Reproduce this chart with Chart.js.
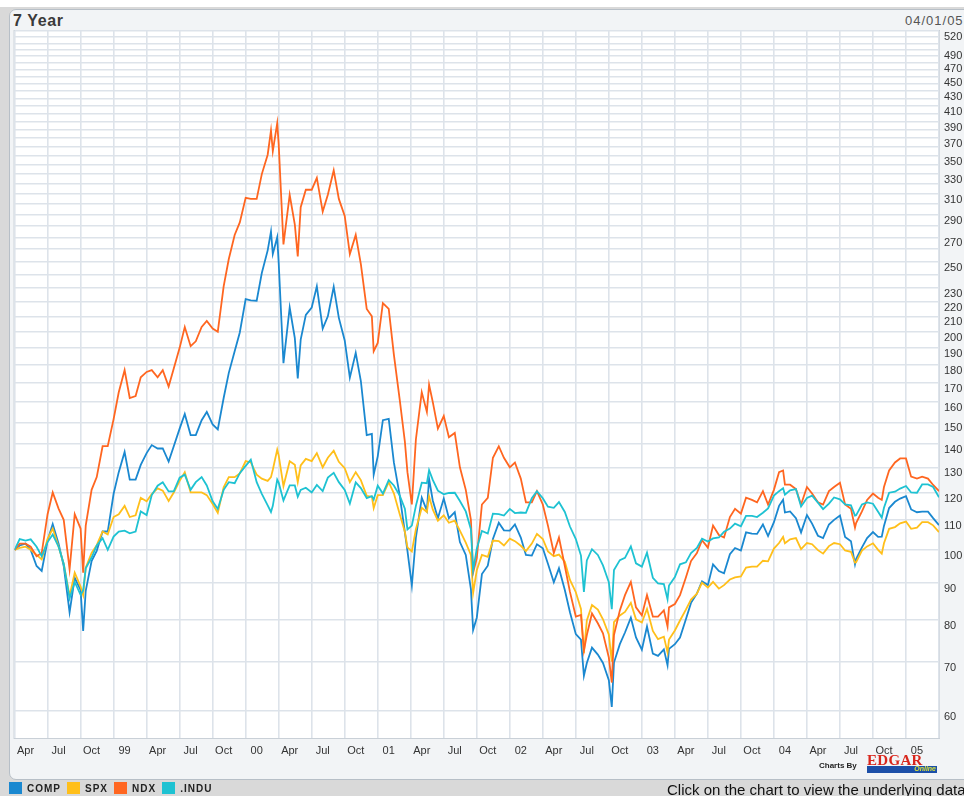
<!DOCTYPE html>
<html>
<head>
<meta charset="utf-8">
<title>7 Year</title>
<script src="https://cdn.jsdelivr.net/npm/chart.js@4.4.1/dist/chart.umd.min.js"></script>
<style>
  html, body { margin: 0; padding: 0; width: 964px; height: 796px; overflow: hidden; background: #fff; font-family: "Liberation Sans", Arial, sans-serif; }
  #frame { position: absolute; left: 0; top: 7px; width: 964px; height: 789px; background: #d9d9d9; }
  #panel { position: absolute; left: 9px; top: 9px; width: 980px; height: 771px; box-sizing: border-box; background: #f2f4f6; border: 1px solid #b7bfc7; border-radius: 7px; }
  #title { position: absolute; left: 13px; top: 12px; font-size: 16px; font-weight: bold; color: #3a3a3a; letter-spacing: 0.6px; }
  #stamp { position: absolute; left: 905px; top: 13px; font-size: 13px; color: #555; letter-spacing: 1px; white-space: nowrap; }
  #chart { position: absolute; left: 0; top: 0; z-index: 2; }
  #legend { position: absolute; left: 9px; top: 782px; font-size: 10px; font-weight: bold; color: #222; letter-spacing: 1px; white-space: nowrap; z-index: 3; }
  #legend span.box { display: inline-block; width: 13px; height: 12px; vertical-align: -2px; margin-right: 5px; }
  #legend span.item { margin-right: 6px; }
  #click { position: absolute; left: 667px; top: 781px; font-size: 15px; color: #111; white-space: nowrap; z-index: 3; }
  #credit { position: absolute; left: 819px; top: 753px; width: 120px; height: 22px; z-index: 3; }
  #credit .by { position: absolute; left: 0; top: 8px; font-size: 8px; font-weight: bold; color: #222; }
  #credit .edgar { position: absolute; left: 48px; top: -1px; font-family: "Liberation Serif", "DejaVu Serif", serif; font-weight: bold; font-size: 15px; color: #d8261c; letter-spacing: 0.3px; }
  #credit .bar { position: absolute; left: 48px; top: 13px; width: 70px; height: 7px; background: #1c4fa8; }
  #credit .online { position: absolute; right: 1px; top: -1px; font-size: 7px; font-style: italic; font-weight: bold; color: #d9e23a; }
</style>
</head>
<body>
<div id="frame"></div>
<div id="panel"></div>
<div id="title">7 Year</div>
<div id="stamp">04/01/05</div>
<canvas id="chart" width="964" height="796"></canvas>
<div id="credit"><span class="by">Charts By</span><span class="edgar">EDGAR</span><div class="bar"><span class="online">Online</span></div></div>
<div id="legend"></div>
<div id="click">Click on the chart to view the underlying data</div>
<script>
// indices rebases a 100 au 01/04/98, un point le 1er et le 15 de chaque mois (+ quelques extremes)
const dates = [
  '1998-04-01','1998-04-15','1998-05-01','1998-05-15','1998-06-01','1998-06-15','1998-07-01','1998-07-15','1998-08-01','1998-08-15','1998-09-01','1998-09-15','1998-10-01','1998-10-08','1998-10-15','1998-11-01','1998-11-15','1998-12-01','1998-12-15',
  '1999-01-01','1999-01-15','1999-02-01','1999-02-15','1999-03-01','1999-03-15','1999-04-01','1999-04-15','1999-05-01','1999-05-15','1999-06-01','1999-06-15','1999-07-01','1999-07-15','1999-08-01','1999-08-15','1999-09-01','1999-09-15','1999-10-01','1999-10-15','1999-11-01','1999-11-15','1999-12-01','1999-12-15',
  '2000-01-01','2000-01-15','2000-02-01','2000-02-15','2000-03-01','2000-03-10','2000-03-15','2000-03-27','2000-04-01','2000-04-14','2000-05-01','2000-05-15','2000-05-23','2000-06-01','2000-06-15','2000-07-01','2000-07-15','2000-08-01','2000-08-15','2000-09-01','2000-09-15','2000-10-01','2000-10-15','2000-11-01','2000-11-15','2000-12-01','2000-12-15','2000-12-20',
  '2001-01-01','2001-01-15','2001-02-01','2001-02-15','2001-03-01','2001-03-15','2001-03-22','2001-04-04','2001-04-15','2001-05-01','2001-05-15','2001-05-21','2001-06-01','2001-06-15','2001-07-01','2001-07-15','2001-08-01','2001-08-15','2001-09-01','2001-09-15','2001-09-21','2001-10-01','2001-10-15','2001-11-01','2001-11-15','2001-12-01','2001-12-15',
  '2002-01-01','2002-01-15','2002-02-01','2002-02-15','2002-03-01','2002-03-15','2002-04-01','2002-04-15','2002-05-01','2002-05-15','2002-06-01','2002-06-15','2002-07-01','2002-07-15','2002-07-23','2002-08-01','2002-08-15','2002-09-01','2002-09-15','2002-10-01','2002-10-09','2002-10-15','2002-11-01','2002-11-15','2002-12-01','2002-12-15',
  '2003-01-01','2003-01-15','2003-02-01','2003-02-15','2003-03-01','2003-03-11','2003-03-15','2003-04-01','2003-04-15','2003-05-01','2003-05-15','2003-06-01','2003-06-15','2003-07-01','2003-07-15','2003-08-01','2003-08-15','2003-09-01','2003-09-15','2003-10-01','2003-10-15','2003-11-01','2003-11-15','2003-12-01','2003-12-15',
  '2004-01-01','2004-01-15','2004-01-26','2004-02-01','2004-02-15','2004-03-01','2004-03-15','2004-04-01','2004-04-15','2004-05-01','2004-05-15','2004-06-01','2004-06-15','2004-07-01','2004-07-15','2004-08-01','2004-08-12','2004-08-15','2004-09-01','2004-09-15','2004-10-01','2004-10-15','2004-10-25','2004-11-01','2004-11-15','2004-12-01','2004-12-15',
  '2005-01-01','2005-01-15','2005-02-01','2005-02-15','2005-03-01','2005-03-15','2005-04-01'
];

const comp = [
  100, 101.4, 102, 100, 95, 93.5, 103, 108.5, 102, 95, 82, 91.5, 88, 77.3, 87.8, 96.5, 99.7, 106, 106,
  119.5, 128, 136.5, 125, 125, 131, 136, 139.5, 138, 138, 132.4, 139, 147, 154, 144, 144, 151, 155, 149, 146.6, 162, 175.5, 188, 199.5,
  221.8, 221, 220.7, 241, 259, 275, 256, 270, 249, 181, 216, 196, 172.4, 195, 211, 216, 231, 202, 210, 230.7, 209, 194.5, 172.8, 187, 171, 144, 144.6, 127,
  134.6, 151, 151.6, 132, 118.8, 105.7, 99.7, 89.3, 104, 118, 113.3, 125.3, 117, 110.6, 117.7, 110.6, 112.7, 102.5, 98.4, 88.3, 77.5, 80.6, 92.6, 95.1, 103.5, 109, 106.4,
  106.3, 108.4, 104, 98.4, 98.2, 101.8, 100.5, 95.7, 90.2, 94.3, 88, 82, 76.5, 75.2, 67, 69.8, 73.3, 71.7, 69.8, 66.1, 60.7, 69.9, 74.1, 76.9, 80.6, 75.7,
  72.8, 78.4, 71.9, 71.4, 72.9, 69.3, 73, 74.1, 75.7, 80.2, 84.5, 87, 90.5, 89.4, 95.5, 93.5, 92.8, 98.6, 100.6, 99.8, 105.7, 105.3, 105.2, 108.4, 104.5,
  109.2, 115, 117.3, 112.6, 113, 110.6, 105.7, 111.7, 108.7, 104.6, 103.8, 108.4, 110, 111.5, 104.2, 102.8, 95.5, 97.1, 100.8, 103.8, 105.8, 104.2, 104.3, 107.9, 114.2, 116.5, 117.7,
  118.6, 113.7, 112.7, 112.9, 112.9, 110.6, 108.2
];

const spx = [
  100, 100.6, 101, 100, 98.4, 97, 103.6, 107, 101, 95.7, 86.4, 93, 89, 86.6, 94.5, 99, 101.5, 106, 105,
  111, 112, 115, 111, 111.6, 118, 116.7, 119.4, 121.6, 120.7, 116.8, 120, 124.5, 128, 120, 120, 120, 119, 115.7, 112.5, 122, 126, 126, 127.5,
  132.6, 132, 127, 125.4, 124.5, 126, 129, 137.5, 135, 122.4, 132.5, 131, 124, 130.8, 133.5, 132.6, 136, 130, 134, 137, 132.3, 129.6, 124, 128, 124.8, 118.7, 118.4, 114.2,
  119, 119, 124, 119.7, 112, 105.9, 100.8, 99.5, 106.8, 114.3, 112.8, 118.5, 113.7, 109.7, 111.6, 109, 109.7, 106.3, 102.3, 98.4, 87.2, 93.7, 98.4, 97.8, 103, 102.8, 101.4,
  103.6, 102.8, 101.3, 99.6, 102, 105.2, 103.5, 99.5, 98, 98.5, 96.3, 90.9, 87.4, 82.9, 72, 79.9, 83.9, 82.7, 80.2, 76.4, 70.1, 79.5, 81.2, 82.1, 84.5, 80.2,
  79.4, 82.9, 77.3, 75.3, 75.9, 72.2, 75.2, 77.4, 79.9, 82.7, 85.4, 87, 90.1, 88.7, 90.3, 88.4, 89.4, 91, 91.6, 91.9, 94.5, 94.8, 94.8, 96.6, 96.4,
  100.4, 102.2, 104.2, 102.1, 103.4, 103.8, 100.2, 102.2, 101.8, 99.9, 98.8, 101.2, 102.2, 101.8, 99.8, 99.4, 96, 96.1, 99.8, 101.1, 102.1, 100, 98.8, 102.1, 106.9, 107.5, 108.8,
  109.4, 106.9, 107.3, 109.2, 109.2, 108.1, 105.8
];

const ndx = [
  100, 102, 102, 101, 98, 99, 112, 120, 114, 110, 94, 112, 107, 93, 108, 121, 126, 139, 139,
  151.5, 165, 177, 162, 163, 173, 176, 177, 173, 177, 168, 178, 190, 203, 191, 194, 203, 207, 202, 200, 231, 252, 272, 283,
  306, 305, 305, 330, 351, 379, 355, 388, 363, 264, 309, 281, 254, 297, 314, 314, 326, 293, 309, 334, 305, 289, 256, 272, 248, 215, 210, 188,
  193, 219, 215, 186, 161, 141, 128, 115.5, 142, 165, 155, 169, 160, 147, 153, 143, 145, 130, 121, 110, 93, 97.4, 115.5, 118, 134, 139, 134,
  130, 132, 125.4, 116.3, 116.3, 120.5, 115.5, 108, 99, 104, 95, 87.5, 80.9, 81.3, 72.6, 76.3, 81.7, 79.2, 76.7, 71, 65.6, 76.3, 82.5, 86.6, 90.3, 83.3,
  81.2, 86.6, 80.9, 80.9, 82.5, 78.4, 83.3, 84.2, 86.6, 91.6, 96.5, 99, 103.1, 100.7, 108, 104.8, 104, 111, 113.9, 112.2, 118, 117.2, 116.3, 120.5, 115.5,
  121, 128, 128.7, 123, 123, 121.3, 115.5, 122.1, 119.6, 116.3, 115.5, 120.5, 122.1, 123.8, 115.5, 113.9, 107.3, 108.9, 113, 117.2, 119.6, 118, 117.2, 122.1, 128.7, 132, 133.7,
  133.7, 126.2, 125.4, 126.2, 125.4, 122.9, 120.5
];

const indu = [
  100, 103.5, 103, 103.4, 101, 98, 102.5, 105, 101, 95.7, 85.7, 90.3, 86.7, 87.9, 94.3, 97.6, 101.4, 103.8, 100,
  104.3, 106, 106.3, 105.4, 106, 113, 111.7, 119, 122.6, 124, 120.4, 120.4, 125.8, 127, 121, 124, 126, 122.7, 116.7, 113.9, 121, 124, 123.6, 127.6,
  130.6, 133.2, 124, 119.5, 115.2, 112.8, 115, 125, 123.8, 117, 122.7, 122.7, 118.4, 121, 121.8, 120, 122.9, 120.5, 125.8, 127.7, 124, 121, 115.8, 123.9, 121.7, 117.9, 118.6, 117.3,
  122.6, 119.6, 124.8, 122.7, 118.8, 114, 106.7, 108, 115, 123.8, 123.6, 128.8, 124.9, 120.7, 119.3, 119.8, 119.9, 116.8, 113, 106.8, 93.6, 100.4, 106.2, 105.3, 112.2, 112, 111.5,
  113.9, 112.4, 112.6, 112.5, 117.8, 120.5, 117.8, 114.7, 114.3, 116.4, 112.8, 107.7, 103.5, 98.2, 87.5, 96.7, 100.2, 98.4, 95.2, 90.2, 82.8, 93.8, 96.8, 97.5, 101.1, 95.8,
  94.8, 99.1, 91.5, 89.9, 89.7, 85.5, 89.3, 91.7, 95.5, 96.1, 99, 100.6, 103.6, 102.7, 103.7, 104, 105.9, 107, 108.7, 107.8, 111.4, 111.4, 111, 112.5, 114.1,
  118.8, 120.5, 121.6, 119.2, 120.8, 121.3, 114.8, 117.9, 118.8, 116.2, 113.8, 115.8, 118.1, 117.4, 115.5, 115.2, 111.5, 111.6, 115.5, 116.3, 115.8, 112.9, 110.8, 114.3, 119.9, 120.3, 121.5,
  122.5, 120, 119.9, 123.1, 123.1, 122.1, 118.2
];

const seriesNames = ['COMP', 'SPX', 'NDX', '.INDU'];
const seriesColors = ['#1a88d0', '#ffbf1a', '#ff6620', '#1ec2d2'];

// axe X : un repere par trimestre (mois depuis avril 98)
const xTickMonths = [0, 3, 6, 9, 12, 15, 18, 21, 24, 27, 30, 33, 36, 39, 42, 45, 48, 51, 54, 57, 60, 63, 66, 69, 72, 75, 78, 81, 84];
const xTickLabels = ['Apr', 'Jul', 'Oct', '99', 'Apr', 'Jul', 'Oct', '00', 'Apr', 'Jul', 'Oct', '01', 'Apr', 'Jul', 'Oct', '02',
  'Apr', 'Jul', 'Oct', '03', 'Apr', 'Jul', 'Oct', '04', 'Apr', 'Jul', 'Oct', '05', ''];

// axe Y (log) : une ligne tous les 10, libelles seulement sur certains
const yTickValues = [60, 70, 80, 90, 100, 110, 120, 130, 140, 150, 160, 170, 180, 190, 200, 210, 220, 230, 240, 250,
  260, 270, 280, 290, 300, 310, 320, 330, 340, 350, 360, 370, 380, 390, 400, 410, 420, 430, 440, 450, 460, 470, 480,
  490, 500, 510, 520];
const yTickLabels = [60, 70, 80, 90, 100, 110, 120, 130, 140, 150, 160, 170, 180, 190, 200, 210, 220, 230, 250, 270,
  290, 310, 330, 350, 370, 390, 410, 430, 450, 470, 490, 520];

function monthIndex(d) {
  const p = d.split('-').map(Number);
  return (p[0] - 1998) * 12 + (p[1] - 4) + (p[2] - 1) / 30;
}

const allSeries = [comp, spx, ndx, indu];
const datasets = allSeries.map((serie, k) => ({
  label: seriesNames[k],
  data: dates.map((d, i) => ({ x: monthIndex(d), y: serie[i] })),
  borderColor: seriesColors[k],
  borderWidth: 1.8,
  pointRadius: 0,
  tension: 0,
  fill: false,
  order: 3 - k,
}));

// fond blanc de la zone de trace
const plotBg = {
  id: 'plotBg',
  beforeDraw(c) {
    const a = c.chartArea;
    const g = c.ctx;
    g.save();
    g.fillStyle = '#ffffff';
    g.fillRect(a.left, a.top, a.right - a.left, a.bottom - a.top);
    g.strokeStyle = '#c9d0d7';
    g.lineWidth = 1;
    g.strokeRect(a.left - 0.5, a.top - 0.5, a.right - a.left + 1, a.bottom - a.top + 1);
    g.restore();
  },
};

const tickFont = { family: "'Liberation Sans', Arial, sans-serif", size: 11 };

let chart = new Chart(document.getElementById('chart').getContext('2d'), {
  type: 'line',
  data: { datasets: datasets },
  options: {
    responsive: false,
    animation: false,
    events: [],
    layout: { padding: { left: 13, top: 31, right: 0, bottom: 36 } },
    plugins: { legend: { display: false }, tooltip: { enabled: false } },
    scales: {
      x: {
        type: 'linear',
        min: 0,
        max: 84,
        afterBuildTicks: (s) => { s.ticks = xTickMonths.map((v) => ({ value: v })); },
        afterFit: (s) => { s.height = 22; },
        grid: { color: '#dde3ea', lineWidth: 1.6, drawTicks: false },
        border: { display: false },
        ticks: {
          autoSkip: false,
          maxRotation: 0,
          labelOffset: 11,
          padding: 6,
          color: '#333',
          font: tickFont,
          callback: (v, i) => xTickLabels[i],
        },
      },
      y: {
        type: 'logarithmic',
        position: 'right',
        min: 55,
        max: 520,
        bounds: 'data',
        afterBuildTicks: (s) => { s.ticks = yTickValues.map((v) => ({ value: v })); },
        afterFit: (s) => { s.width = 25; },
        grid: { color: '#dde3ea', lineWidth: 1.4, drawTicks: false },
        border: { display: false },
        ticks: {
          autoSkip: false,
          padding: 5,
          labelOffset: 6,
          color: '#333',
          font: tickFont,
          callback: (v) => (yTickLabels.includes(v) ? String(v) : ''),
        },
      },
    },
  },
  plugins: [plotBg],
});

// legende en bas
let legend = document.getElementById('legend');
seriesNames.forEach((name, k) => {
  legend.innerHTML += `<span class="item"><span class="box" style="background:${seriesColors[k]}"></span>${name}</span>`;
});
</script>
</body>
</html>
